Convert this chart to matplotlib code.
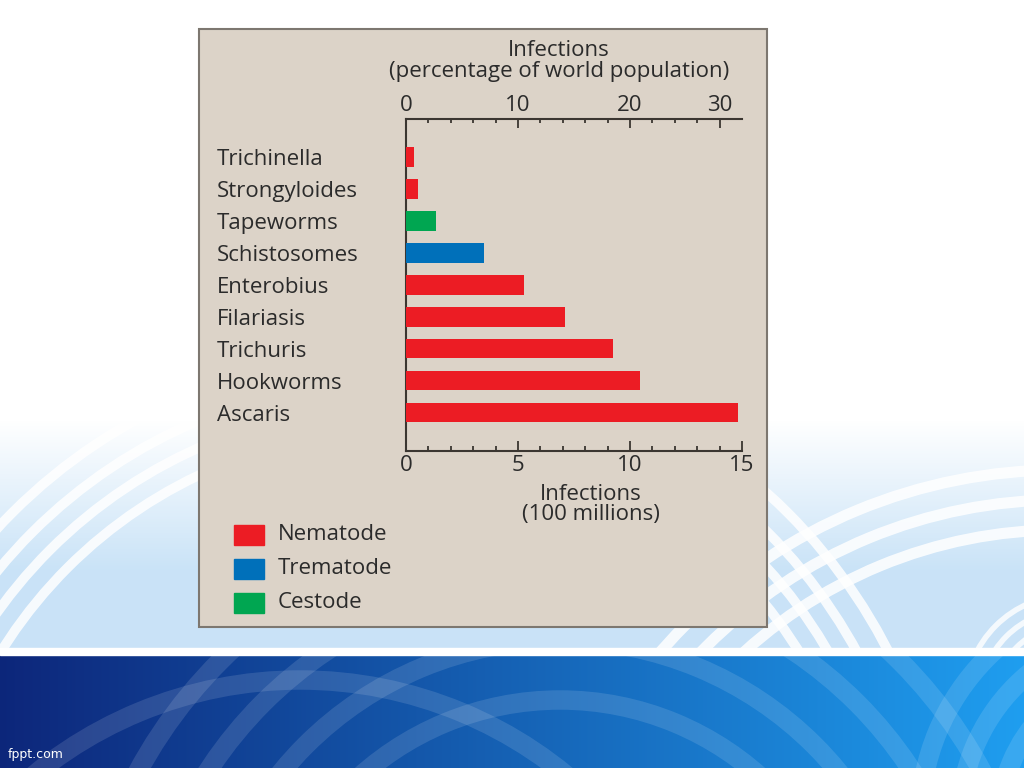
import matplotlib
import matplotlib.pyplot as plt
import numpy as np
from matplotlib.patches import Rectangle, Arc

font = {'family': 'Open Sans', 'size': 16, 'weight': 'medium'}
matplotlib.rc('font', **font)

# data
parasites = ["Trichinella", "Strongyloides", "Tapeworms", "Schistosomes", "Enterobius",
             "Filariasis", "Trichuris", "Hookworms", "Ascaris"]
infections = [0.36, 0.52, 1.34, 3.48, 5.28, 7.09, 9.22, 10.45, 14.81]   # 100 millions
group = ["Nematode", "Nematode", "Cestode", "Trematode", "Nematode",
         "Nematode", "Nematode", "Nematode", "Nematode"]
group_colors = {"Nematode": "#ec1c24", "Trematode": "#0070ba", "Cestode": "#00a651"}
legend_names = ["Nematode", "Trematode", "Cestode"]
bottom_ticks = [0, 5, 10, 15]
top_tick_pos = [0, 10, 20, 28]
top_tick_labels = ["0", "10", "20", "30"]

txt = "#2b2b2b"
axcol = "#3b3631"
fs = 16

W, H = 1024, 768
fig = plt.figure(figsize=(W / 100, H / 100), dpi=100)

# slide background
bg = fig.add_axes([0, 0, 1, 1])
bg.set_xlim(0, W)
bg.set_ylim(H, 0)
bg.axis("off")
img = np.ones((H, W, 3))
light = np.array([0.79, 0.89, 0.97])
for y in range(420, 648):
    t = min(1, (y - 420) / 150)
    img[y] = (1 - t) * np.ones(3) + t * light
xs = np.linspace(0, 1, W)[:, None]
dark_l = np.array([0.05, 0.15, 0.48])
dark_r = np.array([0.12, 0.62, 0.94])
img[655:] = (1 - xs) * dark_l + xs * dark_r
bg.imshow(img, extent=(0, W, H, 0), aspect="auto", zorder=0)

upper_clip = Rectangle((0, 420), W, 228, transform=bg.transData)
lower_clip = Rectangle((0, 655), W, 113, transform=bg.transData)
# white swirl bands
for r in [470, 495, 520, 548]:
    a = bg.add_patch(Arc((400, 900), 2 * r, 2 * r, color="white", alpha=0.85, lw=7, zorder=1))
    a.set_clip_path(upper_clip)
for r in [470, 500, 530]:
    a = bg.add_patch(Arc((1060, 1000), 2 * r, 2 * r, color="white", alpha=0.85, lw=8, zorder=1))
    a.set_clip_path(upper_clip)
for r in [60, 75, 90, 105]:
    a = bg.add_patch(Arc((1070, 700), 2 * r, 2 * r, color="white", alpha=0.8, lw=4, zorder=1))
    a.set_clip_path(upper_clip)
# lighter arcs in the dark band
for cx, cy, r in [(560, 1000, 300), (560, 1000, 360), (560, 1000, 420), (560, 1000, 480),
                  (1150, 820, 150), (1150, 820, 190), (1150, 820, 230), (300, 1100, 420)]:
    a = bg.add_patch(Arc((cx, cy), 2 * r, 2 * r, color="white", alpha=0.12, lw=14, zorder=1))
    a.set_clip_path(lower_clip)
bg.add_patch(Rectangle((0, 648), W, 7, color="white", zorder=2))
bg.text(8, 758, "fppt.com", color="white", fontsize=9, fontfamily="Liberation Sans Narrow",
        fontweight="normal", zorder=3)

# beige panel
bg.add_patch(Rectangle((199, 29), 568, 598, facecolor="#dcd3c8", edgecolor="#7d7770", lw=1.5, zorder=4))

ax = fig.add_axes([406 / W, 1 - 451 / H, (742 - 406) / W, (451 - 119) / H])
ax.set_facecolor("none")
ypos = np.arange(len(parasites))
ax.barh(ypos, infections, height=0.61, color=[group_colors[g] for g in group], zorder=3)
ax.set_xlim(0, 15)
ax.set_ylim(9.2, -1.19)
ax.set_yticks(ypos, parasites)
ax.tick_params(axis="y", length=0, pad=136)
for lab in ax.get_yticklabels():
    lab.set_horizontalalignment("left")
    lab.set_fontsize(fs)
    lab.set_color(txt)

ax.spines["right"].set_visible(False)
for s in ["left", "bottom", "top"]:
    ax.spines[s].set_color(axcol)
    ax.spines[s].set_linewidth(1.5)

ax.set_xticks(bottom_ticks)
ax.set_xticks(np.arange(0, 16, 1), minor=True)
ax.tick_params(axis="x", which="major", direction="in", length=7.5, width=1.3,
               color=axcol, labelsize=fs, labelcolor=txt, pad=3)
ax.tick_params(axis="x", which="minor", direction="in", length=3.8, width=1.3, color=axcol)
ax.set_xlabel("Infections\n(100 millions)", fontsize=fs, color=txt, linespacing=0.95)
ax.xaxis.set_label_coords((591 - 406) / (742 - 406), -0.098)
ax.xaxis.label.set_verticalalignment("top")

sec = ax.secondary_xaxis("top", functions=(lambda x: x * 2, lambda x: x / 2))
sec.spines["top"].set_visible(False)
sec.set_xticks(top_tick_pos, top_tick_labels)
sec.set_xticks(np.arange(0, 29, 2), minor=True)
sec.tick_params(axis="x", which="major", direction="in", length=6.5, width=1.3,
                color=axcol, labelsize=fs, labelcolor=txt, pad=2)
sec.tick_params(axis="x", which="minor", direction="in", length=3.2, width=1.3, color=axcol)

fig.text(559 / W, 1 - 61 / H, "Infections\n(percentage of world population)", ha="center",
         va="center", fontsize=fs, color=txt, linespacing=0.95)

# legend
for i, name in enumerate(legend_names):
    yc = 535 + i * 34
    bg.add_patch(Rectangle((234, yc - 10), 30, 20, color=group_colors[name], zorder=5))
    bg.text(278, yc, name, va="center", ha="left", fontsize=fs, color=txt, zorder=5)

fig.savefig("out.png", dpi=100)
